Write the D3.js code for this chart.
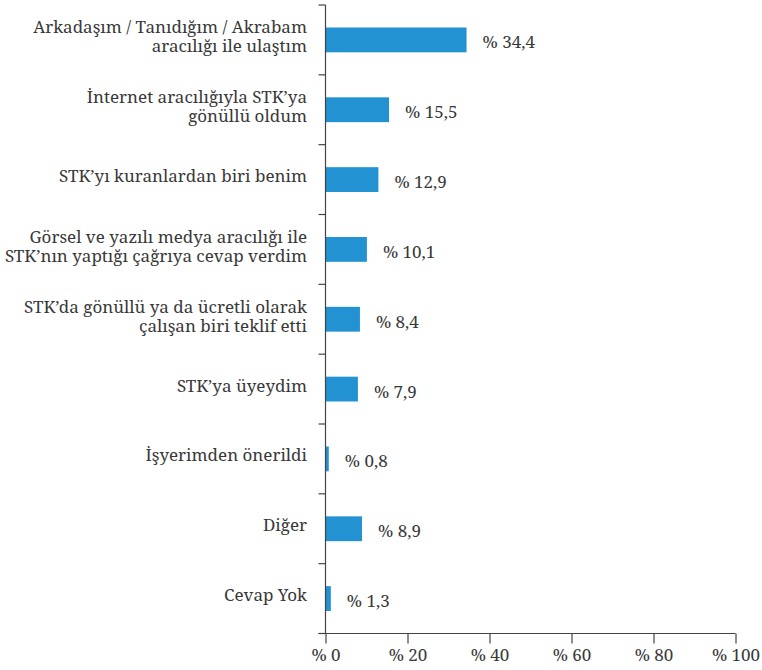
<!DOCTYPE html>
<html>
<head>
<meta charset="utf-8">
<script src="https://cdn.jsdelivr.net/npm/d3@7"></script>
<style>
  body { margin: 0; background: #fff; }
</style>
</head>
<body>
<svg width="762" height="670"></svg>
<script>
// categories (lines of each label) and values in percent
var categories = [
  ["Arkadaşım / Tanıdığım / Akrabam", "aracılığı ile ulaştım"],
  ["İnternet aracılığıyla STK’ya", "gönüllü oldum"],
  ["STK’yı kuranlardan biri benim"],
  ["Görsel ve yazılı medya aracılığı ile", "STK’nın yaptığı çağrıya cevap verdim"],
  ["STK’da gönüllü ya da ücretli olarak", "çalışan biri teklif etti"],
  ["STK’ya üyeydim"],
  ["İşyerimden önerildi"],
  ["Diğer"],
  ["Cevap Yok"]
];
var values = [34.4, 15.5, 12.9, 10.1, 8.4, 7.9, 0.8, 8.9, 1.3];
var xTicks = [0, 20, 40, 60, 80, 100];

var svg = d3.select("svg"),
  mLeft = 325.5,
  mRight = 735.5,
  mTop = 5,
  mBottom = 633.5,
  font = "'Noto Serif', 'Liberation Serif', serif",
  fontSize = "17px",
  ink = "#383838";

var keys = d3.range(values.length);

var x = d3.scaleLinear().domain([0, 100]).range([mLeft, mRight]);
var y = d3.scaleBand().domain(keys).range([mTop, mBottom]).padding(0);
var step = y.step();
var barH = step * 0.355;

// bars
svg.selectAll("rect.bar")
  .data(keys)
  .enter().append("rect")
  .attr("class", "bar")
  .attr("x", x(0))
  .attr("y", function (i) { return y(i) + step / 2 - barH / 2; })
  .attr("width", function (i) { return x(values[i]) - x(0); })
  .attr("height", barH)
  .style("fill", "#2292d2");

// value labels
svg.selectAll("text.val")
  .data(keys)
  .enter().append("text")
  .attr("class", "val")
  .attr("x", function (i) { return x(values[i]) + 16; })
  .attr("y", function (i) { return y(i) + step / 2 + 8.5; })
  .style("font-family", font)
  .style("font-size", fontSize)
  .style("fill", ink)
  .text(function (i) { return "% " + String(values[i]).replace(".", ","); });

// category labels
var lab = svg.selectAll("text.cat")
  .data(keys)
  .enter().append("text")
  .attr("class", "cat")
  .attr("text-anchor", "end")
  .style("font-family", font)
  .style("font-size", fontSize)
  .style("fill", ink);

lab.each(function (i) {
  var lines = categories[i];
  var cy = y(i) + step / 2;
  var offs = lines.length == 1 ? [2.5] : [-6.5, 12.5];
  d3.select(this).selectAll("tspan")
    .data(lines)
    .enter().append("tspan")
    .attr("x", 307)
    .attr("y", function (d, j) { return cy + offs[j]; })
    .text(function (d) { return d; });
});

// left axis with ticks at band boundaries
var bounds = keys.map(function (i) { return y(i); }).concat([mBottom]);
svg.append("line")
  .attr("x1", mLeft).attr("x2", mLeft)
  .attr("y1", mTop).attr("y2", mBottom)
  .style("stroke", "#444").style("stroke-width", 1.2);
svg.selectAll("line.ytick")
  .data(bounds)
  .enter().append("line")
  .attr("class", "ytick")
  .attr("x1", mLeft - 7).attr("x2", mLeft)
  .attr("y1", function (d) { return d; })
  .attr("y2", function (d) { return d; })
  .style("stroke", "#444").style("stroke-width", 1.2);

// bottom axis
var xAxis = d3.axisBottom(x)
  .tickValues(xTicks)
  .tickSize(10)
  .tickFormat(function (d) { return "% " + d; });

var gx = svg.append("g")
  .attr("transform", "translate(0," + mBottom + ")")
  .call(xAxis);
gx.select(".domain").attr("d", "M" + (mLeft - 7) + ",0H" + mRight)
  .style("stroke", "#444").style("stroke-width", 1.2);
gx.selectAll(".tick line").style("stroke", "#444").style("stroke-width", 1.2);
gx.selectAll(".tick text")
  .attr("y", 15)
  .style("font-size", fontSize)
  .style("font-family", font)
  .style("fill", ink);
</script>
</body>
</html>
